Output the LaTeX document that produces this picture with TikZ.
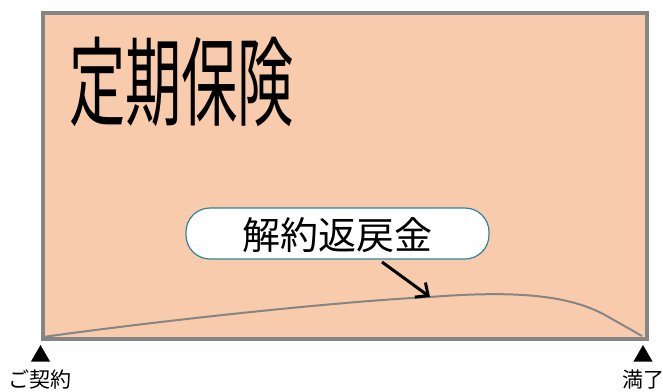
\documentclass[tikz,border=0pt]{standalone}
\usepackage{fontspec}
\newfontfamily\jpfont{Noto Sans CJK JP}
\usetikzlibrary{shapes,arrows.meta,positioning}
\definecolor{peach}{HTML}{F8CBAD}
\definecolor{frame}{HTML}{858585}
\definecolor{calloutline}{HTML}{31849B}

\begin{document}
\begin{tikzpicture}[x=1pt,y=-1pt,
    pointer/.style={regular polygon, regular polygon sides=3, fill=black, minimum size=22pt, inner sep=0pt},
    marktext/.style={font=\jpfont\fontsize{21}{21}\selectfont, inner sep=0pt},
    callout/.style={draw=calloutline, line width=1.2pt, fill=white, rounded corners=24pt, minimum width=303pt, minimum height=51pt}]
    \useasboundingbox (0,0) rectangle (663,391);

    % Main box
    \node[draw=frame, line width=4pt, fill=peach, minimum width=604pt, minimum height=326pt, anchor=north west, inner sep=0pt] (box) at (41,11) {};

    % Title
    \node[anchor=west, xscale=0.58, inner sep=0pt, font=\jpfont\fontsize{97}{97}\selectfont] (title) at (69,82) {定期保険};

    % Value curve
    \coordinate (tip) at (430,297);
    \draw[frame, line width=2pt] (43,337) .. controls (150,322) and (330,302) .. (tip)
        .. controls (520,290) and (570,296) .. (605,315) .. controls (628,328) .. (642,336);

    % Callout
    \node[callout] (refund) at (337.5,233.5) {};
    \node[font=\jpfont\fontsize{38}{38}\selectfont, inner sep=0pt] (refundtext) at (337,235) {解約返戻金};
    \draw[-{Straight Barb[length=10pt,width=18pt]}, line width=3pt] (382,262) -- (tip);

    % Start and end marks
    \node[pointer] (start) at (40.5,356) {};
    \node[pointer] (end) at (643,356) {};
    \node[marktext, below=8pt of start] (startlabel) {ご契約};
    \node[marktext, below=8pt of end] (endlabel) {満了};
\end{tikzpicture}
\end{document}
